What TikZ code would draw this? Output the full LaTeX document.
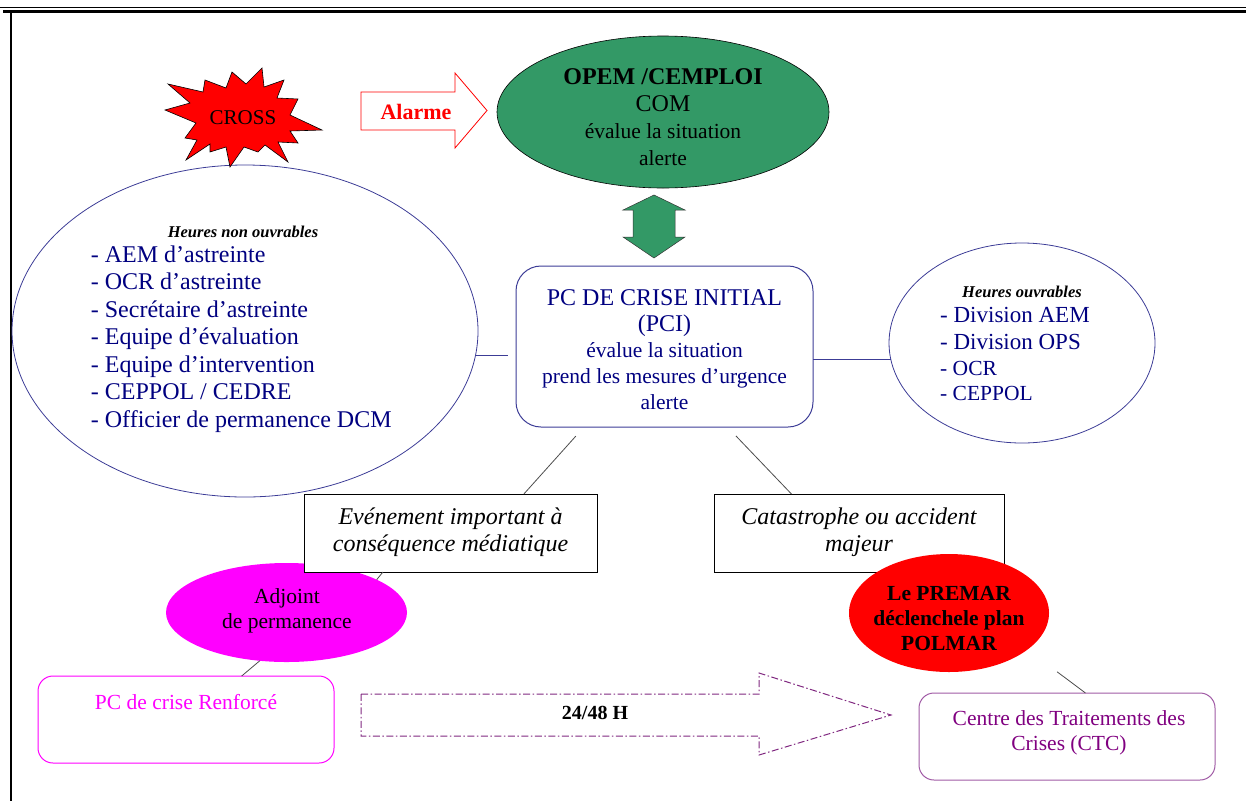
\documentclass[tikz,border=0pt]{standalone}
\usepackage{fontspec}
\setmainfont{Liberation Serif}
\usetikzlibrary{calc,shapes.geometric}
\definecolor{opemgreen}{RGB}{51,153,102}
\definecolor{navytxt}{RGB}{0,0,128}
\definecolor{navyline}{RGB}{60,60,150}
\definecolor{mag}{RGB}{255,0,255}
\definecolor{purp}{RGB}{128,0,128}
\definecolor{purpline}{RGB}{160,90,165}
\definecolor{dashpurp}{RGB}{128,40,128}
\newcommand{\fsz}[2]{\fontsize{#1}{#2}\selectfont}
\begin{document}
\begin{tikzpicture}[x=1pt,y=-1pt,
  ell/.style={ellipse, inner sep=0pt, outer sep=0pt},
  boxn/.style={rectangle, inner sep=0pt, outer sep=0pt},
  txt/.style={inner sep=0pt, align=center},
  conn/.style={line width=0.8pt, draw=black!70},
  bline/.style={line width=1pt, draw=navyline}]
\useasboundingbox (0,0) rectangle (1246,801);
% frame
\draw[line width=1pt] (0,7.5) -- (1246,7.5);
\draw[line width=2.5pt] (3,11.5) -- (1246,11.5);
\draw[line width=2pt] (10.5,11) -- (10.5,801);

% left ellipse
\node[ell, draw=navyline, line width=0.8pt, minimum width=466pt, minimum height=332pt] (lell) at (245,331) {};
\node[inner sep=0pt, anchor=base, font=\fsz{16.5}{18}\bfseries\itshape] (lhead) at (243,237) {Heures non ouvrables};
\foreach \t [count=\i from 0] in {AEM d’astreinte, OCR d’astreinte, Secrétaire d’astreinte, Equipe d’évaluation, Equipe d’intervention, CEPPOL / CEDRE, Officier de permanence DCM}
  \node[inner sep=0pt, anchor=base west, text=navytxt, font=\fsz{24}{27}] (l\i) at (90.7,{262+27.5*\i}) {- \t};

% right ellipse
\node[ell, draw=navyline, line width=0.8pt, minimum width=266pt, minimum height=200pt] (rell) at (1022,343) {};
\node[inner sep=0pt, anchor=base, font=\fsz{16.5}{18}\bfseries\itshape] (rhead) at (1022,297) {Heures ouvrables};
\node[inner sep=0pt, anchor=base west, text=navytxt, font=\fsz{23}{26}] (r1) at (940,322) {- Division AEM};
\node[inner sep=0pt, anchor=base west, text=navytxt, font=\fsz{23}{26}] (r2) at (940,349) {- Division OPS};
\node[inner sep=0pt, anchor=base west, text=navytxt, font=\fsz{21.5}{26}] (r3) at (940,375) {- OCR};
\node[inner sep=0pt, anchor=base west, text=navytxt, font=\fsz{21.5}{26}] (r4) at (940,400) {- CEPPOL};

% CROSS starburst
\path[fill=red, draw=black, line width=0.6pt]
  (165,110) -- (190,103) -- (168,84) -- (203,92) -- (205,80) -- (226,88) -- (232,72) -- (246,84)
  -- (262,68) -- (264,87) -- (284,80) -- (277,98) -- (298,99) -- (290,115) -- (322,130) -- (290,131)
  -- (298,143) -- (278,142) -- (288,162) -- (265,145) -- (258,152) -- (244,147) -- (230,167)
  -- (226,147) -- (210,152) -- (210,144) -- (186,160) -- (197,140) -- (185,138) -- (196,123) -- cycle;
\node[txt, font=\fsz{21}{24}] (cross) at (243,118) {CROSS};

% Alarme arrow
\path[draw=red, line width=0.8pt, fill=white]
  (361,92) -- (455,92) -- (455,73) -- (487,110.5) -- (455,148) -- (455,130) -- (361,130) -- cycle;
\node[txt, text=red, font=\fsz{22}{24}\bfseries] (alarm) at (416,112) {Alarme};

% OPEM ellipse
\node[ell, draw=black, line width=0.6pt, fill=opemgreen, minimum width=332pt, minimum height=152pt] (opem) at (663,112) {};
\node[txt, font=\fsz{24}{27}] (opemT) at (663,117.5) {{\bfseries OPEM /CEMPLOI}\\COM\\{\fsz{21.5}{27}évalue la situation}\\{\fsz{21.5}{27}alerte}};

% green double arrow
\path[fill=opemgreen, draw=black!80, line width=0.5pt]
  (654,195) -- (685,210) -- (675,210) -- (675,237) -- (685,237) -- (654,258) -- (623,237) -- (633,237) -- (633,210) -- (623,210) -- cycle;

% PCI
\node[boxn, draw=navyline, line width=1pt, rounded corners=25pt, minimum width=297pt, minimum height=161pt] (pci) at (664.5,346.5) {};
\node[txt, text=navytxt, font=\fsz{21.5}{26}] (pciT) at (664.5,350) {{\fsz{24}{26}PC DE CRISE INITIAL}\\{\fsz{24}{26}(PCI)}\\évalue la situation\\prend les mesures d’urgence\\alerte};

% magenta ellipse, box 1
\node[ell, fill=mag, minimum width=241pt, minimum height=99pt] (adj) at (286.5,612.5) {};
\node[txt, font=\fsz{21.5}{25}] (adjT) at (287,610.5) {Adjoint\\de permanence};
\node[boxn, draw=black, line width=1pt, fill=white, minimum width=293pt, minimum height=78pt] (b1) at (450.5,533) {};
\node[txt, font=\fsz{24}{27}\itshape] (b1T) at (450.5,532.5) {Evénement important à\\conséquence médiatique};

% box 2, red ellipse
\node[boxn, draw=black, line width=1pt, fill=white, minimum width=290pt, minimum height=78pt] (b2) at (859,533) {};
\node[txt, font=\fsz{24}{27}\itshape] (b2T) at (859,532) {Catastrophe ou accident\\majeur};
\node[ell, fill=red, minimum width=200pt, minimum height=118pt] (premar) at (949,613) {};
\node[txt, font=\fsz{21.5}{25}\bfseries] (premarT) at (949,618) {Le PREMAR\\déclenchele plan\\POLMAR};

% PC renforcé
\node[boxn, draw=mag, line width=1pt, rounded corners=15pt, minimum width=296pt, minimum height=87pt] (pcr) at (186,719.5) {};
\node[txt, text=mag, font=\fsz{21.5}{25}] (pcrT) at (186,702) {PC de crise Renforcé};

% CTC
\node[boxn, draw=purpline, line width=1pt, rounded corners=15pt, minimum width=296pt, minimum height=87pt] (ctc) at (1067,736.5) {};
\node[txt, text=purp, font=\fsz{21.5}{25}] (ctcT) at (1069,732.5) {Centre des Traitements des\\Crises (CTC)};

% dashed arrow
\path[draw=dashpurp, line width=1pt, dash pattern=on 7pt off 2.5pt on 1.5pt off 2.5pt]
  (361,694) -- (759,694) -- (759,673) -- (891,715) -- (759,755) -- (759,736) -- (361,736) -- cycle;
\node[txt, font=\fsz{20}{24}\bfseries] (hours) at (595,713) {24/48 H};

% connectors
\draw[bline, shorten >=8pt] (lell.-6.7) -- (lell.-6.7 -| pci.west);
\draw[bline] (pci.east |- rell.187.7) -- (rell.187.7);
\draw[conn, shorten <=12.3pt] (pci.225.5) -- (b1.28.3);
\draw[conn, shorten <=12.3pt] (pci.-52.4) -- (b2.150.5);
\draw[conn] (b1.210) -- (adj.20.7);
\draw[conn] (adj.241.8) -- (pcr.38.3);
\draw[conn, shorten <=37pt] (premar.-25) -- (ctc.67.5);
\end{tikzpicture}
\end{document}
